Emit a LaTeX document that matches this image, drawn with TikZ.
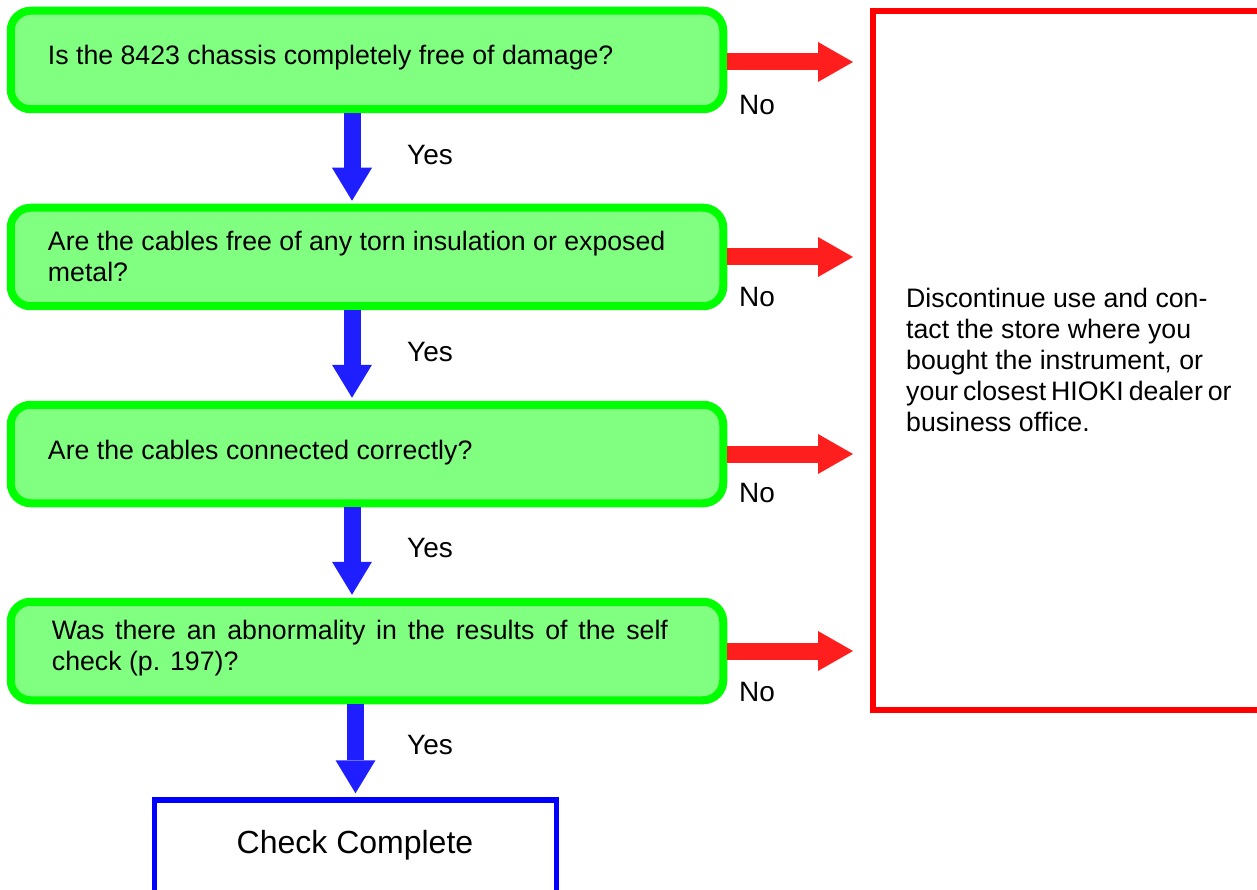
\documentclass[tikz,border=0pt]{standalone}
\usepackage{fontspec}
\setmainfont{Liberation Sans}
\usetikzlibrary{arrows.meta,calc}
\definecolor{boxgreen}{HTML}{00FF00}
\definecolor{fillgreen}{HTML}{80FF80}
\definecolor{arrred}{HTML}{FF1E1E}
\definecolor{boxred}{HTML}{FF0000}
\definecolor{arrblue}{HTML}{1E1EFF}
\definecolor{boxblue}{HTML}{0000FF}
\begin{document}
\begin{tikzpicture}[x=1pt,y=-1pt,
  qbox/.style={draw=boxgreen, fill=fillgreen, line width=8pt, rounded corners=20pt,
    minimum width=712.5pt, minimum height=98.5pt, inner sep=0pt},
  qtext/.style={anchor=west, align=left, font=\fontsize{26.7}{31}\selectfont, inner sep=0pt},
  rbox/.style={draw=boxred, line width=6pt, minimum width=527pt, minimum height=698.5pt, inner sep=0pt},
  dbox/.style={draw=boxblue, line width=5.5pt, minimum width=402pt, minimum height=150pt, inner sep=0pt},
  noarrow/.style={draw=arrred, line width=17pt, -{Triangle[width=40pt,length=35pt,line width=0pt]},
    shorten >=17pt},
  yesarrow/.style={draw=arrblue, line width=17pt, -{Triangle[width=40pt,length=33pt,line width=0pt]},
    shorten >=3pt},
  lbl/.style={font=\fontsize{28}{34}\selectfont, inner sep=0pt}
]
\path[use as bounding box, clip] (0,0) rectangle (1257,890);

\node[qbox] (b1) at (367,60) {};
\node[qbox] (b2) at (367,257) {};
\node[qbox] (b3) at (367,454) {};
\node[qbox] (b4) at (367,651) {};

\node[qtext] (t1) at ($(b1.west)+(41,-2)$) {Is the 8423 chassis completely free of damage?};
\node[qtext] (t2) at ($(b2.west)+(41,-1)$) {Are the cables free of any torn insulation or exposed\\metal?};
\node[qtext] (t3) at ($(b3.west)+(41,-1)$) {Are the cables connected correctly?};
\node[qtext] (t4) at ($(b4.west)+(45,-3)$) {\makebox[616pt][s]{Was there an abnormality in the results of the self}\\check (p. 197)?};

\node[rbox] (rb) at (1136.5,360.25) {};
\node[qtext] (rt) at ($(rb.west)+(36,0)$) {Discontinue use and con-\\tact the store where you\\bought the instrument, or\\\makebox[324pt][s]{your closest HIOKI dealer or}\\business office.};

\node[dbox] (done) at (355.5,875) {};
\node[font=\fontsize{32}{38}\selectfont, inner sep=0pt] (dt) at (355,845) {Check Complete};

\draw[yesarrow] ($(b1.south)+(-15,0)$) -- ($(b2.north)+(-15,0)$);
\draw[yesarrow] ($(b2.south)+(-15,0)$) -- ($(b3.north)+(-15,0)$);
\draw[yesarrow] ($(b3.south)+(-15,0)$) -- ($(b4.north)+(-15,0)$);
\draw[yesarrow, shorten >=4pt] (b4.south -| done.north) -- (done.north);

\draw[noarrow] ($(b1.east)+(0,2)$) -- ($(b1.east -| rb.west)+(0,2)$);
\draw[noarrow] (b2.east) -- (b2.east -| rb.west);
\draw[noarrow] (b3.east) -- (b3.east -| rb.west);
\draw[noarrow] (b4.east) -- (b4.east -| rb.west);

\node[lbl] (y1) at (430,155) {Yes};
\node[lbl] (y2) at (430,352) {Yes};
\node[lbl] (y3) at (430,548) {Yes};
\node[lbl] (y4) at (430,745) {Yes};
\node[lbl] (n1) at (757,105) {No};
\node[lbl] (n2) at (757,297) {No};
\node[lbl] (n3) at (757,493) {No};
\node[lbl] (n4) at (757,692) {No};
\end{tikzpicture}
\end{document}
